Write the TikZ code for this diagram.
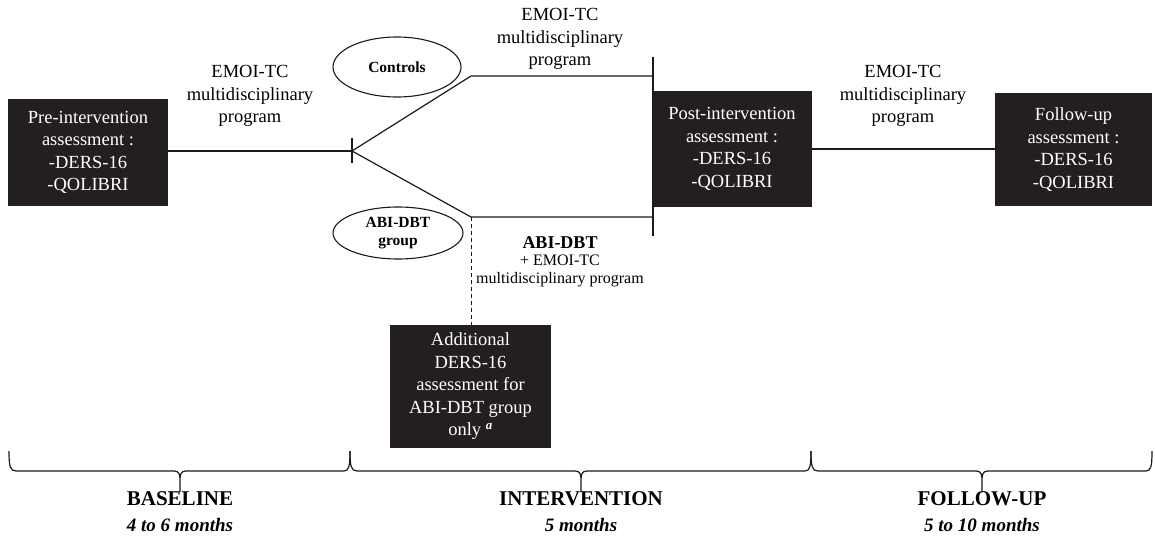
\documentclass[tikz,border=0pt]{standalone}
\usepackage{fontspec}
\setmainfont{Liberation Serif}
\usetikzlibrary{shapes.geometric}
\definecolor{boxfill}{HTML}{231F20}
\definecolor{ink}{HTML}{1A1A1A}
\tikzset{
  darkbox/.style={fill=boxfill, text=white, align=center, inner sep=0pt,
    font=\fontsize{18.5}{22.5}\selectfont},
  oval/.style={ellipse, draw=ink, line width=1.1pt, inner sep=0pt, align=center,
    font=\fontsize{15.5}{18}\selectfont\bfseries},
  lbl/.style={align=center, inner sep=0pt, font=\fontsize{18.5}{22.5}\selectfont},
  conn/.style={draw=ink, line width=1.2pt},
  brc/.style={draw=ink, line width=1.2pt},
  phase/.style={inner sep=0pt, font=\fontsize{21}{24}\selectfont\bfseries},
  dur/.style={inner sep=0pt, font=\fontsize{19}{22}\selectfont\bfseries\itshape}
}
\begin{document}
\begin{tikzpicture}[x=1pt,y=-1pt]
\useasboundingbox (0,0) rectangle (1155,540);
% boxes
\node[darkbox, minimum width=160, minimum height=107] (pre) at (88,152.5)
  {Pre-intervention\\assessment :\\-DERS-16\\-QOLIBRI};
\node[darkbox, minimum width=160, minimum height=116] (post) at (732,149)
  {Post-intervention\\assessment :\\-DERS-16\\-QOLIBRI};
\node[darkbox, minimum width=157, minimum height=113] (fu) at (1073.5,149.5)
  {Follow-up\\assessment :\\-DERS-16\\-QOLIBRI};
\node[darkbox, minimum width=161, minimum height=123] (add) at (470.5,386.5)
  {Additional\\DERS-16\\assessment for\\ABI-DBT group\\only \textsuperscript{\textbf{\textit{a}}}};
% ellipses
\node[oval, minimum width=128, minimum height=60] (ctrl) at (397,67) {Controls};
\node[oval, minimum width=130, minimum height=52] (abi) at (398,233) {ABI-DBT\\group};
% coordinates
\coordinate (split) at (352,151);
\coordinate (splitT) at (352,138);
\coordinate (splitB) at (352,163);
\coordinate (upc) at (471,76);
\coordinate (loc) at (471,217);
\coordinate (upe) at (653,76);
\coordinate (loe) at (653,217);
\coordinate (barT) at (653,57);
\coordinate (barB) at (653,236);
% connectors
\draw[conn] (pre.east |- split) -- (split);
\draw[conn] (splitT) -- (splitB);
\draw[conn] (split) -- (upc) -- (upe);
\draw[conn] (split) -- (loc) -- (loe);
\draw[conn] (barT) -- (barB);
\draw[conn] (post.east) -- (fu.west |- post.east);
\draw[conn, line width=1pt, dash pattern=on 4pt off 3pt] (loc) -- (loc |- add.north);
% labels
\node[lbl] (l1) at (250,96) {EMOI-TC\\multidisciplinary\\program};
\node[lbl] (l2) at (560,39) {EMOI-TC\\multidisciplinary\\program};
\node[lbl] (l3) at (903,96) {EMOI-TC\\multidisciplinary\\program};
\node[inner sep=0pt, font=\fontsize{18}{20}\selectfont\bfseries] (l4) at (560,243) {ABI-DBT};
\node[align=center, inner sep=0pt, font=\fontsize{16}{18.5}\selectfont] (l5) at (560,271)
  {+ EMOI-TC\\multidisciplinary program};
% braces
\draw[brc] (9,451) .. controls (9,466) and (10,471) .. (16,471) -- (174,471)
  .. controls (179,471) and (180,474) .. (180,480) -- (180,492)
  (180,480) .. controls (180,474) and (181,471) .. (186,471) -- (344,471)
  .. controls (349,471) and (350,466) .. (350,451);
\draw[brc] (350,451) .. controls (350,466) and (351,471) .. (357,471) -- (575,471)
  .. controls (580,471) and (581,474) .. (581,480) -- (581,492)
  (581,480) .. controls (581,474) and (582,471) .. (587,471) -- (805,471)
  .. controls (810,471) and (811,466) .. (811,451);
\draw[brc] (811,451) .. controls (811,466) and (812,471) .. (818,471) -- (976,471)
  .. controls (981,471) and (982,474) .. (982,480) -- (982,492)
  (982,480) .. controls (982,474) and (983,471) .. (988,471) -- (1146,471)
  .. controls (1151,471) and (1152,466) .. (1152,451);
% phase labels
\node[phase] (p1) at (180,499) {BASELINE};
\node[dur] (d1) at (180,525) {4 to 6 months};
\node[phase] (p2) at (581,499) {INTERVENTION};
\node[dur] (d2) at (581,525) {5 months};
\node[phase] (p3) at (982,499) {FOLLOW-UP};
\node[dur] (d3) at (982,525) {5 to 10 months};
\end{tikzpicture}
\end{document}
